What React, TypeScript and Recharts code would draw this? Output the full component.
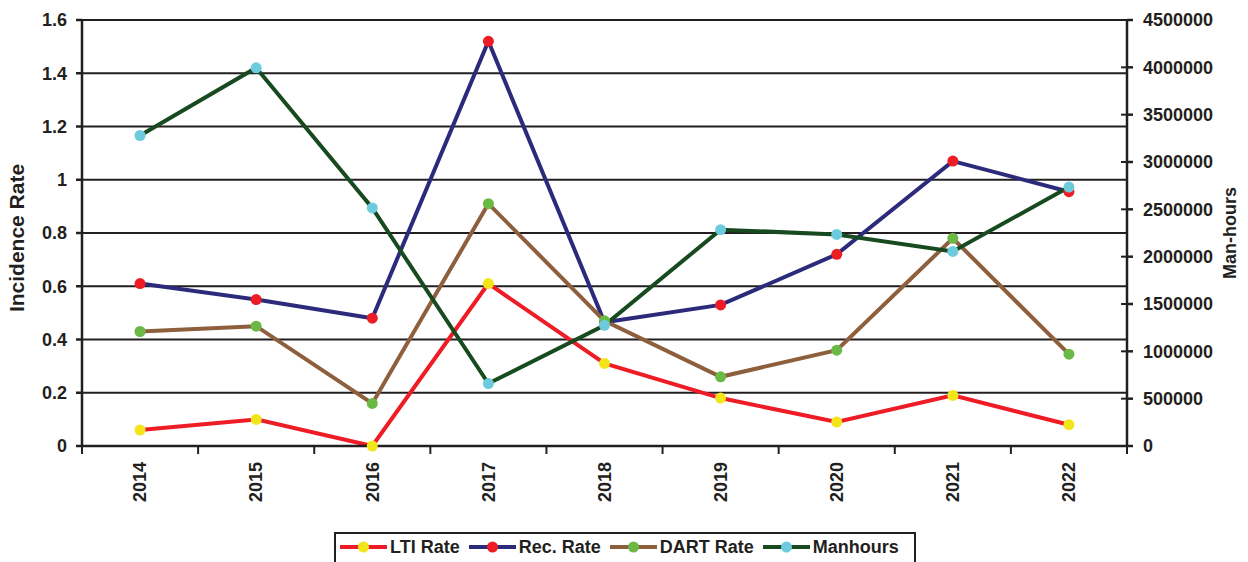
import React from "react";
import {
  LineChart,
  Line,
  XAxis,
  YAxis,
  CartesianGrid,
  Legend,
} from "recharts";

const YEARS = ["2014", "2015", "2016", "2017", "2018", "2019", "2020", "2021", "2022"];
const LTI_RATE = [0.06, 0.1, 0, 0.61, 0.31, 0.18, 0.09, 0.19, 0.08];
const REC_RATE = [0.61, 0.55, 0.48, 1.52, 0.465, 0.53, 0.72, 1.07, 0.955];
const DART_RATE = [0.43, 0.45, 0.16, 0.91, 0.47, 0.26, 0.36, 0.78, 0.345];
const MANHOURS = [3280000, 3995000, 2515000, 660000, 1275000, 2285000, 2235000, 2055000, 2735000];

const LEFT_TICKS = [0, 0.2, 0.4, 0.6, 0.8, 1, 1.2, 1.4, 1.6];
const RIGHT_TICKS = [0, 500000, 1000000, 1500000, 2000000, 2500000, 3000000, 3500000, 4000000, 4500000];

const INK = "#231f20";
const FONT = '"Liberation Sans", Arial, sans-serif';

const SERIES = [
  { key: "lti", name: "LTI Rate", stroke: "#ee1c25", dot: "#f2e51a", axis: "left" },
  { key: "rec", name: "Rec. Rate", stroke: "#2b2a7b", dot: "#ee1c25", axis: "left" },
  { key: "dart", name: "DART Rate", stroke: "#8d5f3d", dot: "#6ab945", axis: "left" },
  { key: "manhours", name: "Manhours", stroke: "#174a1f", dot: "#6ccbdc", axis: "right" },
];

const rows = YEARS.map((year, i) => ({
  year,
  lti: LTI_RATE[i],
  rec: REC_RATE[i],
  dart: DART_RATE[i],
  manhours: MANHOURS[i],
}));

// year label plus the tick marks that sit on the category boundaries
function YearTick(props: any) {
  const { x, y, payload, index, visibleTicksCount, width } = props;
  const half = (width || 1045) / (visibleTicksCount || 9) / 2;
  const ty = y + 16;
  const last = index === visibleTicksCount - 1;
  return (
    <g>
      <line x1={x - half} x2={x - half} y1={y - 1} y2={y + 8} stroke={INK} strokeWidth={2} />
      {last && <line x1={x + half} x2={x + half} y1={y - 1} y2={y + 8} stroke={INK} strokeWidth={2} />}
      <text
        x={x}
        y={ty}
        dy="0.35em"
        transform={`rotate(-90, ${x}, ${ty})`}
        textAnchor="end"
        fill={INK}
        fontSize={18}
        fontWeight={700}
        fontFamily={FONT}
      >
        {payload.value}
      </text>
    </g>
  );
}

// right axis ticks cross the axis line
function RightTick(props: any) {
  const { x, y, payload } = props;
  const ax = x - 16;
  return (
    <g>
      <line x1={ax - 6} x2={ax} y1={y} y2={y} stroke={INK} strokeWidth={2} />
      <text x={x} y={y} dy="0.35em" textAnchor="start" fill={INK} fontSize={18} fontWeight={700} fontFamily={FONT}>
        {payload.value}
      </text>
    </g>
  );
}

function LegendBox() {
  return (
    <div
      style={{
        display: "flex",
        alignItems: "center",
        height: 40,
        boxSizing: "border-box",
        border: `2px solid ${INK}`,
        paddingLeft: 4,
        paddingBottom: 10,
        fontFamily: FONT,
        fontWeight: 700,
        fontSize: 18,
        color: INK,
        background: "#fff",
      }}
    >
      {SERIES.map((s) => (
        <div key={s.key} style={{ display: "flex", alignItems: "center", marginRight: 9 }}>
          <svg width={47} height={14}>
            <line x1={0} x2={47} y1={7} y2={7} stroke={s.stroke} strokeWidth={4} />
            <circle cx={23.5} cy={7} r={5.5} fill={s.dot} />
          </svg>
          <span style={{ marginLeft: 3 }}>{s.name}</span>
        </div>
      ))}
    </div>
  );
}

export default function App() {
  return (
    <div style={{ position: "absolute", left: 0, top: 0, width: 1248, height: 562, background: "#fff", overflow: "hidden" }}>
      <LineChart width={1248} height={562} data={rows} margin={{ top: 20, right: 0, bottom: 0, left: 0 }}>
        <CartesianGrid yAxisId="left" vertical={false} stroke={INK} strokeWidth={2} />
        <XAxis
          dataKey="year"
          scale="band"
          height={116}
          tickLine={false}
          tickSize={0}
          tickMargin={0}
          interval={0}
          stroke={INK}
          strokeWidth={2.5}
          tick={<YearTick />}
        />
        <YAxis
          yAxisId="left"
          width={82}
          domain={[0, 1.6]}
          ticks={LEFT_TICKS}
          interval={0}
          tickSize={6}
          tickMargin={9}
          stroke={INK}
          strokeWidth={2.5}
          tick={{ fill: INK, fontSize: 18, fontWeight: 700, fontFamily: FONT }}
          label={{
            content: (p: any) => {
              const vb = p.viewBox;
              const cx = 17;
              const cy = vb.y + vb.height / 2 + 5;
              return (
                <text
                  x={cx}
                  y={cy}
                  dy="0.35em"
                  transform={`rotate(-90, ${cx}, ${cy})`}
                  textAnchor="middle"
                  fill={INK}
                  fontSize={21}
                  fontWeight={700}
                  fontFamily={FONT}
                >
                  Incidence Rate
                </text>
              );
            },
          }}
        />
        <YAxis
          yAxisId="right"
          orientation="right"
          width={121}
          domain={[0, 4500000]}
          ticks={RIGHT_TICKS}
          interval={0}
          tickSize={6}
          tickMargin={10}
          stroke={INK}
          strokeWidth={2.5}
          tick={<RightTick />}
          label={{
            content: (p: any) => {
              const vb = p.viewBox;
              const cx = vb.x + 103;
              const cy = vb.y + vb.height / 2;
              return (
                <text
                  x={cx}
                  y={cy}
                  dy="0.35em"
                  transform={`rotate(-90, ${cx}, ${cy})`}
                  textAnchor="middle"
                  fill={INK}
                  fontSize={18}
                  fontWeight={700}
                  fontFamily={FONT}
                >
                  Man-hours
                </text>
              );
            },
          }}
        />
        {SERIES.map((s) => (
          <Line
            key={s.key}
            yAxisId={s.axis}
            dataKey={s.key}
            name={s.name}
            type="linear"
            stroke={s.stroke}
            strokeWidth={4}
            dot={{ r: 5.5, fill: s.dot, stroke: s.dot, strokeWidth: 0 }}
            activeDot={false}
            isAnimationActive={false}
          />
        ))}
        <Legend
          layout="horizontal"
          verticalAlign="middle"
          align="center"
          wrapperStyle={{ left: 334, top: 532, width: 582, height: 40 }}
          content={<LegendBox />}
        />
      </LineChart>
    </div>
  );
}
